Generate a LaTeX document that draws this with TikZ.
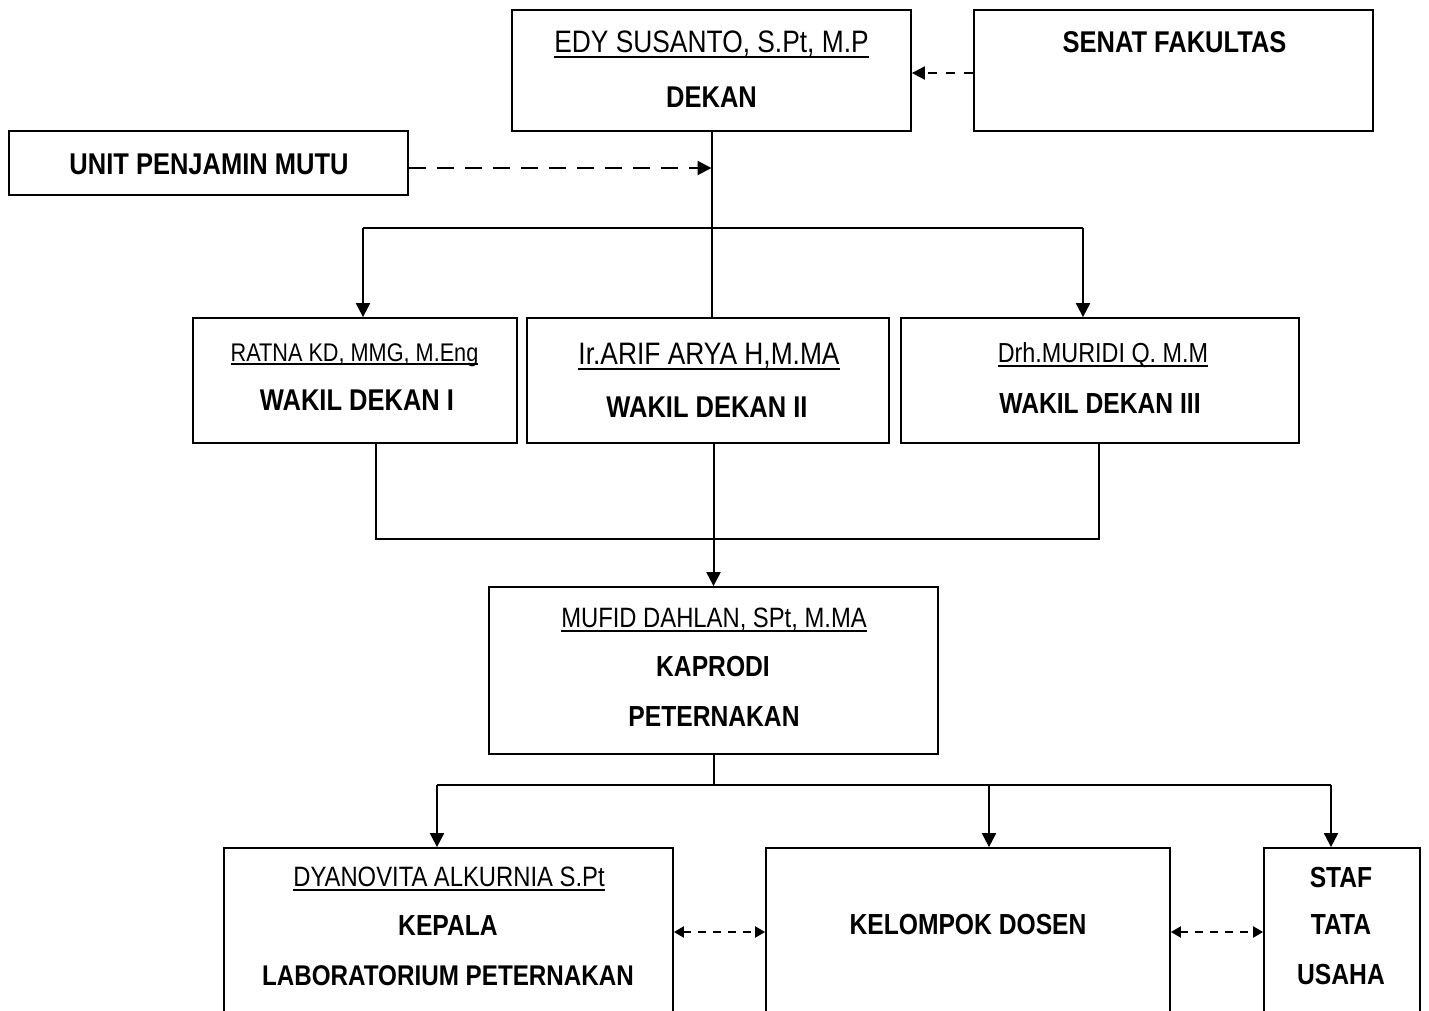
\documentclass[tikz,border=0pt]{standalone}
\usepackage{fontspec}
\setmainfont{Liberation Sans}[FakeStretch=0.85]
\usetikzlibrary{arrows.meta}
\newcommand\nmul[2][4]{\setbox0\hbox{#2}\rlap{\rule[-\dimexpr#1pt+1.2pt\relax]{\wd0}{2.4pt}}\box0}
\tikzset{
  box/.style={draw, line width=1.8pt, inner sep=0pt},
  lbl/.style={anchor=base, inner sep=0pt},
  link/.style={line width=2pt},
  arr/.style={link, -{Triangle[length=14pt,width=14pt]}},
  dasharr/.style={link, dash pattern=on 9pt off 9pt, -{Triangle[length=13pt,width=13pt]}},
  longdash/.style={link, dash pattern=on 17pt off 11pt, -{Triangle[length=14pt,width=14pt]}},
  dbl/.style={link, dash pattern=on 8pt off 7pt, {Triangle[length=10pt,width=11pt]}-{Triangle[length=10pt,width=11pt]}},
  nm/.style={lbl, font=\fontsize{#1}{#1}\selectfont},
  tt/.style={lbl, font=\fontsize{#1}{#1}\selectfont\bfseries}
}
\begin{document}
\begin{tikzpicture}[x=1pt,y=-1pt]
\useasboundingbox (0,0) rectangle (1429,1010);
\fill[white] (0,0) rectangle (1429,1010);
\clip (0,0) rectangle (1429,1010);

% boxes
\node[box, minimum width=399pt, minimum height=121pt] (dekan) at (711.5,70.5) {};
\node[box, minimum width=399pt, minimum height=121pt] (senat) at (1173.5,70.5) {};
\node[box, minimum width=399pt, minimum height=64pt] (upm) at (208.5,163) {};
\node[box, minimum width=324pt, minimum height=125pt] (wd1) at (355,380.5) {};
\node[box, minimum width=362pt, minimum height=125pt] (wd2) at (708,380.5) {};
\node[box, minimum width=398pt, minimum height=125pt] (wd3) at (1100,380.5) {};
\node[box, minimum width=449pt, minimum height=167pt] (kaprodi) at (713.5,670.5) {};
\node[box, minimum width=449pt, minimum height=220pt] (lab) at (448.5,958) {};
\node[box, minimum width=404pt, minimum height=220pt] (dosen) at (968,958) {};
\node[box, minimum width=156pt, minimum height=220pt] (staf) at (1342,958) {};

% texts
\node[nm=31] (t1) at (711.5,52) {\nmul[5]{EDY SUSANTO, S.Pt, M.P}};
\node[tt=30] (t2) at (711.5,107) {DEKAN};
\node[tt=30] (t3) at (1174.5,52) {SENAT FAKULTAS};
\node[tt=30] (t4) at (209,174) {UNIT PENJAMIN MUTU};
\node[nm=25.5] (t5) at (354.5,361) {\nmul[3]{RATNA KD, MMG, M.Eng}};
\node[tt=30] (t6) at (357,410) {WAKIL DEKAN I};
\node[nm=31] (t7) at (709,364) {\nmul[5]{Ir.ARIF ARYA H,M.MA}};
\node[tt=30] (t8) at (707,417) {WAKIL DEKAN II};
\node[nm=27.5] (t9) at (1103,362) {\nmul[4]{Drh.MURIDI Q. M.M}};
\node[tt=29] (t10) at (1100,413) {WAKIL DEKAN III};
\node[nm=28] (t11) at (714,627) {\nmul[4]{MUFID DAHLAN, SPt, M.MA}};
\node[tt=29] (t12) at (713,676) {KAPRODI};
\node[tt=29] (t13) at (714,726) {PETERNAKAN};
\node[nm=28] (t14) at (449,886) {\nmul[4]{DYANOVITA ALKURNIA S.Pt}};
\node[tt=29] (t15) at (448,935) {KEPALA};
\node[tt=28.5] (t16) at (448,985) {LABORATORIUM PETERNAKAN};
\node[tt=29] (t17) at (968,934) {KELOMPOK DOSEN};
\node[tt=29] (t18) at (1341,887) {STAF};
\node[tt=29] (t19) at (1341,934) {TATA};
\node[tt=29] (t20) at (1341,984) {USAHA};

% coordinates
\coordinate (j1) at (711.5,168);
\coordinate (bL) at (363,228);
\coordinate (bR) at (1083,228);
\coordinate (cL) at (376,539);
\coordinate (cR) at (1099,539);
\coordinate (d0) at (713.5,785);
\coordinate (dL) at (437,785);
\coordinate (dM) at (989,785);
\coordinate (dR) at (1331,785);
\coordinate (m) at (0,932);

% connectors
\draw[dasharr] (senat.west |- 0,73) -- (dekan.east |- 0,73);
\draw[longdash] (upm.east |- j1) -- (j1);
\draw[link] (dekan.south) -- (dekan.south |- wd2.north);
\draw[link] (bL) -- (bR);
\draw[arr] (bL) -- (bL |- wd1.north);
\draw[arr] (bR) -- (bR |- wd3.north);
\draw[link] (cL |- wd1.south) -- (cL) -- (cR) -- (cR |- wd3.south);
\draw[arr] (kaprodi.north |- wd2.south) -- (kaprodi.north);
\draw[link] (kaprodi.south) -- (d0);
\draw[link] (dL) -- (dR);
\draw[arr] (dL) -- (dL |- lab.north);
\draw[arr] (dM) -- (dM |- dosen.north);
\draw[arr] (dR) -- (dR |- staf.north);
\draw[dbl] (lab.east |- m) -- (dosen.west |- m);
\draw[dbl] (dosen.east |- m) -- (staf.west |- m);
\end{tikzpicture}
\end{document}
